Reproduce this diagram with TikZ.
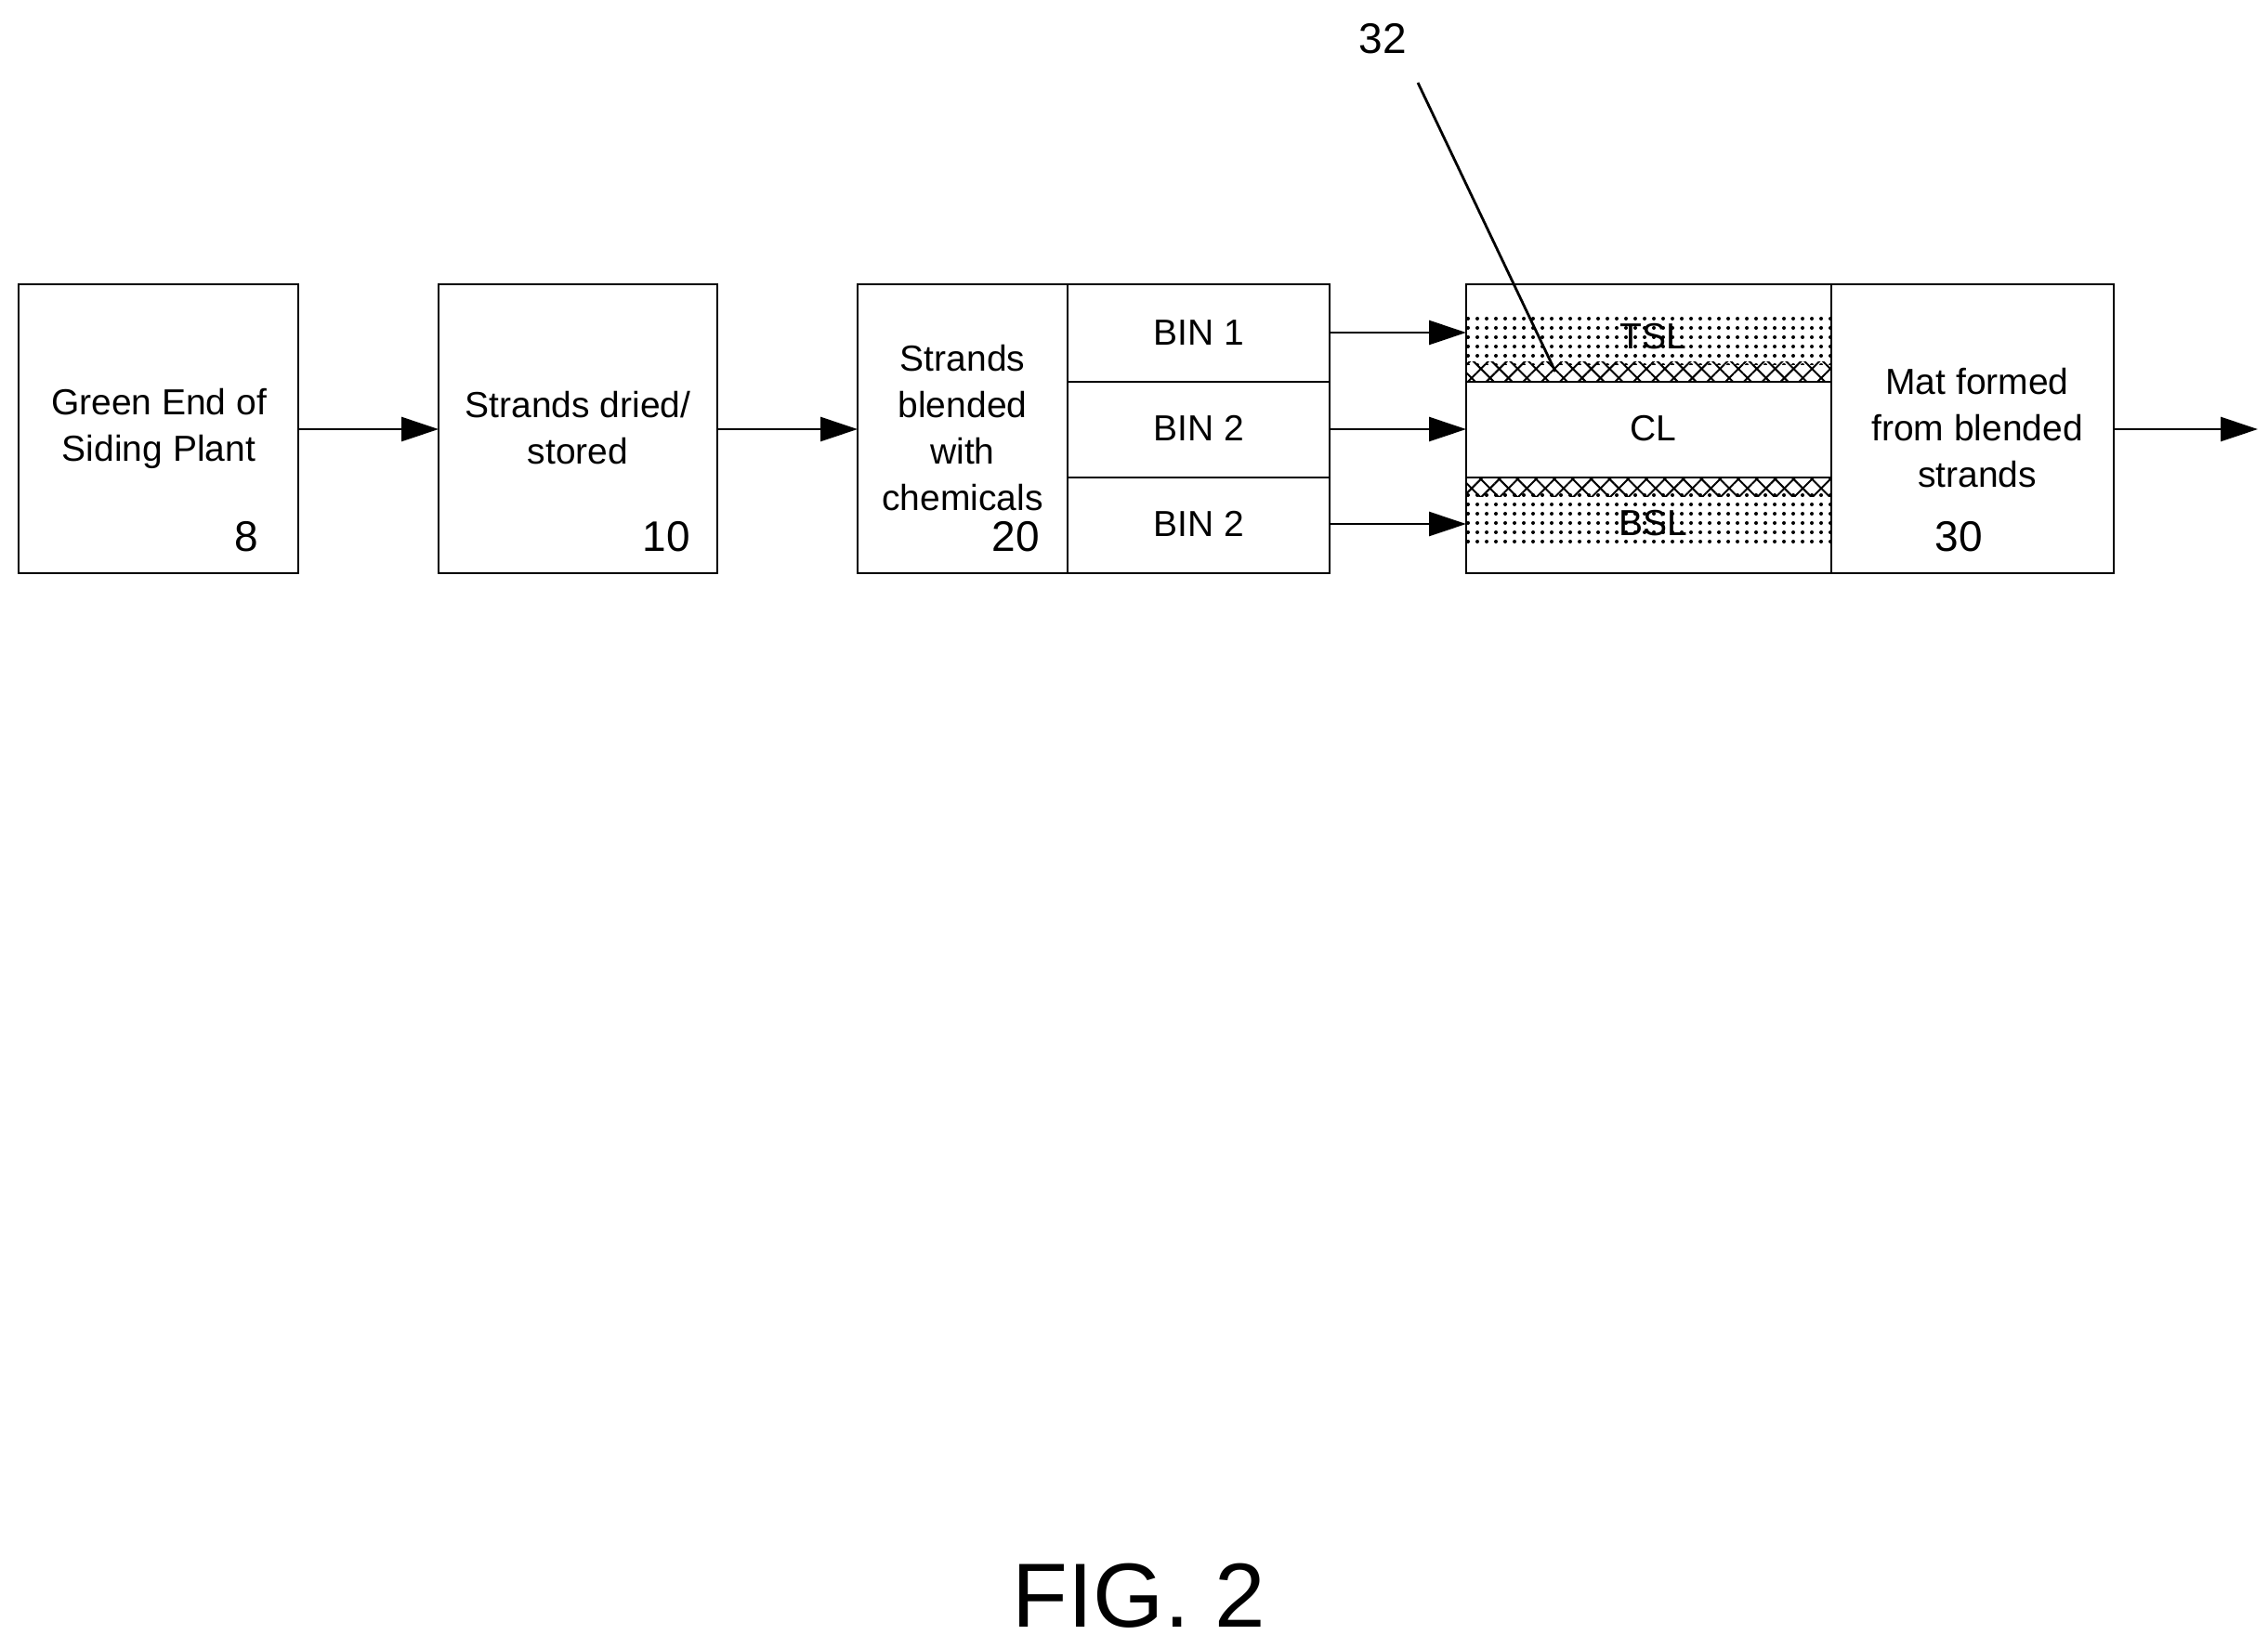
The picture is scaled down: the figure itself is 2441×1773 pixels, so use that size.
\documentclass[tikz,border=0pt]{standalone}
\usepackage{fontspec}
\setmainfont{Liberation Sans}
\usetikzlibrary{arrows.meta,patterns.meta}
\begin{document}
\begin{tikzpicture}[x=1pt,y=-1pt,
  box/.style={draw,line width=2.2pt},
  lbl/.style={font=\fontsize{39}{50}\selectfont,align=center,inner sep=0},
  num/.style={font=\fontsize{46}{50}\selectfont,inner sep=0},
  arr/.style={line width=2.6pt,-{Triangle[length=40pt,width=26pt]}},
  dotsf/.style={pattern={Dots[distance=10pt,radius=2pt]}},
  hatchA/.style={pattern={Lines[angle=45,distance=14pt,line width=2pt]}},
  hatchB/.style={pattern={Lines[angle=-45,distance=14pt,line width=2pt]}}]
\useasboundingbox (0,0) rectangle (2441,1773);
% patterns
\fill[dotsf] (1578,338) rectangle (1971,392);
\fill[hatchA] (1578,389) rectangle (1971,411);
\fill[hatchB] (1578,389) rectangle (1971,411);
\fill[hatchA] (1578,514) rectangle (1971,534);
\fill[hatchB] (1578,514) rectangle (1971,534);
\fill[dotsf] (1578,531) rectangle (1971,585);
% boxes
\draw[box] (20,306) rectangle (321,617);
\draw[box] (472,306) rectangle (772,617);
\draw[box] (923,306) rectangle (1431,617);
\draw[box] (1149,306) -- (1149,617);
\draw[box] (1149,411) -- (1431,411);
\draw[box] (1149,514) -- (1431,514);
\draw[box] (1578,306) rectangle (2275,617);
\draw[box] (1971,306) -- (1971,617);
\draw[box] (1578,411) -- (1971,411);
\draw[box] (1578,514) -- (1971,514);
% anchors
\coordinate (b1r) at (321,462); \coordinate (b2l) at (472,462);
\coordinate (b2r) at (772,462); \coordinate (b3l) at (923,462);
\coordinate (bin1) at (1431,358); \coordinate (tsl) at (1578,358);
\coordinate (bin2) at (1431,462); \coordinate (cl) at (1578,462);
\coordinate (bin3) at (1431,564); \coordinate (bsl) at (1578,564);
\coordinate (matr) at (2275,462); \coordinate (out) at (2430,462);
\draw[arr] (b1r) -- (b2l);
\draw[arr] (b2r) -- (b3l);
\draw[arr] (bin1) -- (tsl);
\draw[arr] (bin2) -- (cl);
\draw[arr] (bin3) -- (bsl);
\draw[arr] (matr) -- (out);
% texts
\node[lbl] (t1) at (171,461) {Green End of\\Siding Plant};
\node[num] (n8) at (265,578) {8};
\node[lbl] (t2) at (622,461) {Strands dried/\\stored};
\node[num] (n10) at (717,578) {10};
\node[lbl] (t3) at (1036,461) {Strands\\blended\\with\\chemicals};
\node[num] (n20) at (1093,578) {20};
\node[lbl] (bA) at (1290,358) {BIN 1};
\node[lbl] (bB) at (1290,461) {BIN 2};
\node[lbl] (bC) at (1290,564) {BIN 2};
\node[lbl] (TSL) at (1779,362) {TSL};
\node[lbl] (CL) at (1779,461) {CL};
\node[lbl] (BSL) at (1779,563) {BSL};
\node[lbl] (t4) at (2128,461) {Mat formed\\from blended\\strands};
\node[num] (n30) at (2108,578) {30};
\node[num] (n32) at (1488,42) {32};
\coordinate (lead) at (1526,89);
\coordinate (leadend) at (1674,400);
\draw[line width=2.8pt] (lead) -- (leadend);
\node[font=\fontsize{98}{110}\selectfont,inner sep=0] (fig) at (1226,1718) {FIG. 2};
\end{tikzpicture}
\end{document}
